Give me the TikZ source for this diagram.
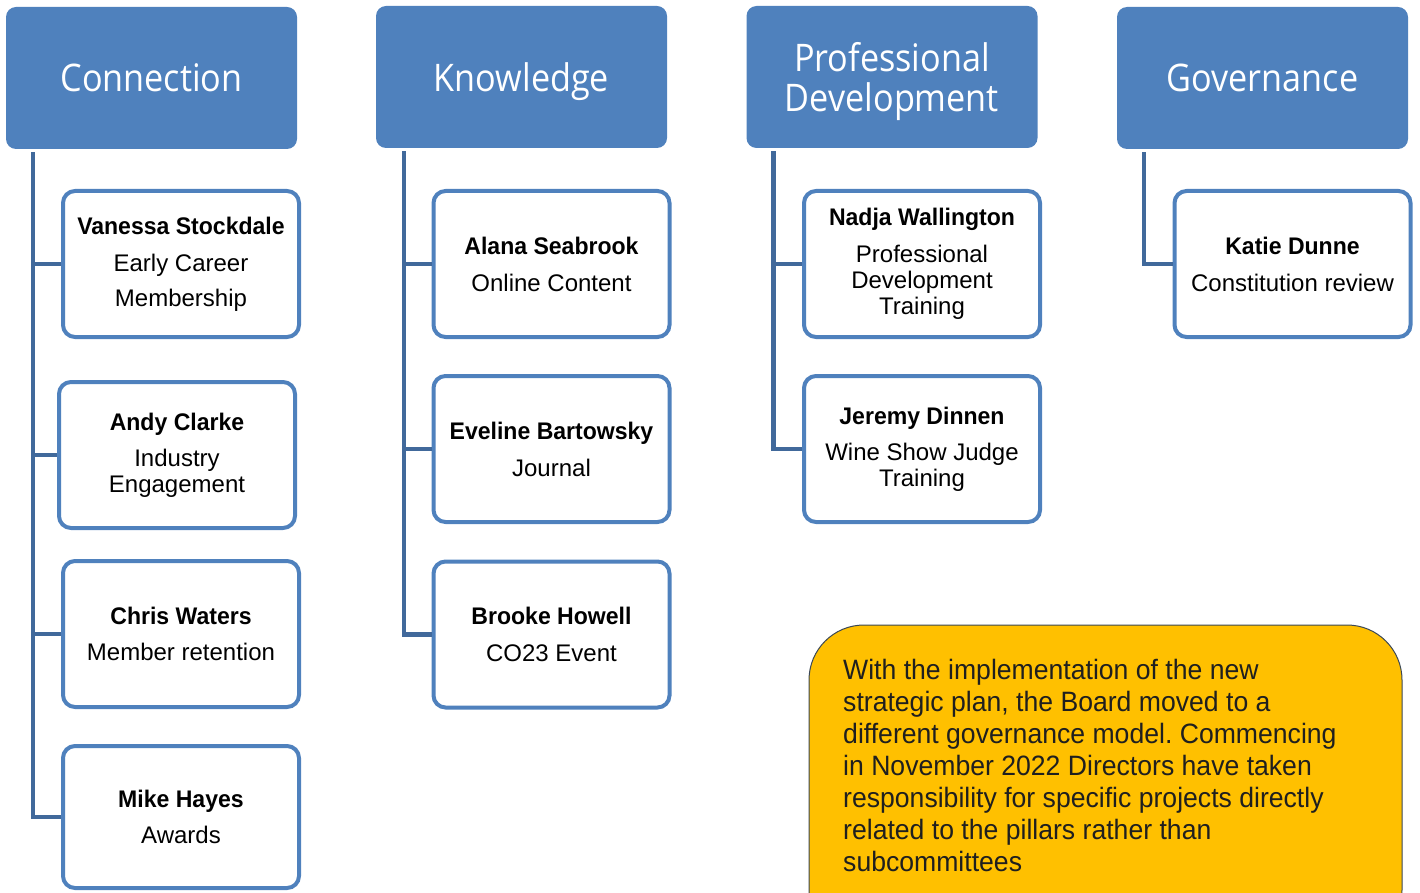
\documentclass[tikz,border=0pt]{standalone}
\usepackage{fontspec}
\setmainfont{Liberation Sans}
\newfontfamily\headfont[FakeStretch=0.9]{Open Sans}
\newfontfamily\bodyfont[FakeStretch=1.0,BoldFeatures={FakeStretch=0.96}]{Liberation Sans}
\newfontfamily\notefont[FakeStretch=0.95]{Liberation Sans}
\definecolor{hdr}{HTML}{4F81BD}
\definecolor{lnk}{HTML}{41699B}
\definecolor{notefill}{HTML}{FFC000}
\definecolor{noteline}{HTML}{3A4756}
\definecolor{notetext}{HTML}{1F1F1F}
\frenchspacing
\begin{document}
\begin{tikzpicture}[x=1pt,y=-1pt,
  header/.style={fill=hdr, rounded corners=10pt, minimum width=291pt, minimum height=142pt,
    inner sep=0pt, text=white, align=center, text depth=0pt,
    font=\headfont\fontsize{38}{40}\selectfont},
  member/.style={draw=hdr, line width=4pt, fill=white, rounded corners=12pt,
    minimum width=236pt, minimum height=146pt, inner sep=0pt, align=center,
    font=\bodyfont\fontsize{24}{26}\selectfont},
  link/.style={draw=lnk, line width=4.5pt},
  notebox/.style={draw=noteline, line width=1pt, fill=notefill, rounded corners=55pt,
    minimum width=593pt, minimum height=320pt, inner sep=0pt},
  notetxt/.style={inner sep=0pt, align=left, text=notetext,
    font=\notefont\fontsize{28}{32}\selectfont}]
\useasboundingbox (0,0) rectangle (1420,893);

% headers
\node[header] (hc) at (151.5,78) {Connection};
\node[header] (hk) at (521.5,77) {Knowledge};
\node[header] (hp) at (892,77) {Professional\\Development};
\node[header] (hg) at (1262.5,78) {Governance};

% members
\node[member] (v1) at (181,264) {\textbf{Vanessa Stockdale}\\[11pt]Early Career\\[9pt]Membership};
\node[member] (a1) at (177,455) {\textbf{Andy Clarke}\\[10pt]Industry\\Engagement};
\node[member] (c1) at (181,634) {\textbf{Chris Waters}\\[10pt]Member retention};
\node[member, minimum height=142pt] (m1) at (181,817) {\textbf{Mike Hayes}\\[10pt]Awards};

\node[member] (k1) at (551.5,264) {\textbf{Alana Seabrook}\\[11pt]Online Content};
\node[member] (k2) at (551.5,449) {\textbf{Eveline Bartowsky}\\[11pt]Journal};
\node[member] (k3) at (551.5,634.5) {\textbf{Brooke Howell}\\[11pt]CO23 Event};

\node[member] (p1) at (922,264) {\textbf{Nadja Wallington}\\[11pt]Professional\\Development\\Training};
\node[member] (p2) at (922,449) {\textbf{Jeremy Dinnen}\\[10pt]Wine Show Judge\\Training};

\node[member] (g1) at (1292.5,264) {\textbf{Katie Dunne}\\[11pt]Constitution review};

% connectors
\foreach \m in {v1,a1,c1,m1}
  \draw[link] ([xshift=27pt,yshift=-3pt]hc.south west) |- (\m.west);
\foreach \m in {k1,k2,k3}
  \draw[link] ([xshift=28pt,yshift=-3pt]hk.south west) |- (\m.west);
\foreach \m in {p1,p2}
  \draw[link] ([xshift=27pt,yshift=-3pt]hp.south west) |- (\m.west);
\draw[link] ([xshift=27pt,yshift=-3pt]hg.south west) |- (g1.west);

% note
\node[notebox] (nb) at (1105.5,785) {};
\node[notetxt, anchor=north west] (nt) at (843,659) {With the implementation of the new\\
strategic plan, the Board moved to a\\
different governance model. Commencing\\
in November 2022 Directors have taken\\
responsibility for specific projects directly\\
related to the pillars rather than\\
subcommittees};
\end{tikzpicture}
\end{document}
